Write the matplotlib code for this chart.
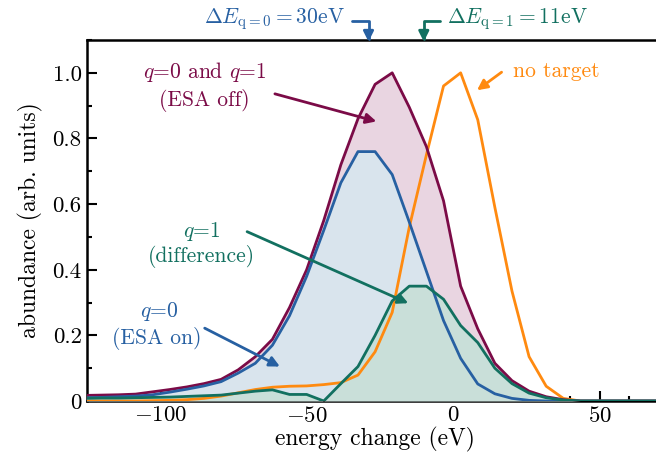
import matplotlib
matplotlib.use('Agg')
import matplotlib.pyplot as plt
from matplotlib.ticker import MultipleLocator

plt.rcParams['font.family'] = 'cmr10'
plt.rcParams['mathtext.fontset'] = 'cm'
plt.rcParams['axes.unicode_minus'] = False
plt.rcParams['font.size'] = 15.5

# energy change (eV)
energy = [-126.2, -120.35, -114.5, -108.65, -102.8, -96.95, -91.1, -85.25,
          -79.4, -73.55, -67.7, -61.85, -56.0, -50.15, -44.3, -38.45, -32.6,
          -26.75, -20.9, -15.05, -9.2, -3.35, 2.5, 8.35, 14.2, 20.05, 25.9,
          31.75, 37.6, 43.45, 49.3, 55.15, 61.0, 66.85, 72.7]

# q=0 and q=1, ESA off
esa_off = [0.017, 0.018, 0.019, 0.021, 0.028, 0.035, 0.043, 0.053,
           0.066, 0.095, 0.135, 0.188, 0.285, 0.40, 0.55, 0.72, 0.86,
           0.965, 1.0, 0.895, 0.775, 0.61, 0.35, 0.22, 0.115, 0.062, 0.03,
           0.013, 0.004, 0.0, 0.0, 0.0, 0.0, 0.0, 0.0]

# q=0, ESA on
esa_on = [0.010, 0.011, 0.013, 0.015, 0.019, 0.027, 0.036, 0.046,
          0.059, 0.085, 0.115, 0.17, 0.26, 0.38, 0.52, 0.665, 0.76,
          0.76, 0.69, 0.545, 0.395, 0.245, 0.13, 0.052, 0.022, 0.008, 0.002,
          0.0, 0.0, 0.0, 0.0, 0.0, 0.0, 0.0, 0.0]

# q=1 (difference)
diff = [0.008, 0.009, 0.009, 0.010, 0.011, 0.012, 0.014, 0.016,
        0.018, 0.024, 0.030, 0.034, 0.020, 0.020, 0.0, 0.053, 0.105,
        0.20, 0.305, 0.35, 0.35, 0.31, 0.23, 0.178, 0.10, 0.053, 0.024,
        0.010, 0.003, 0.0, 0.0, 0.0, 0.0, 0.0, 0.0]

# no target
no_target = [0.0, 0.0, 0.0, 0.0, 0.001, 0.002, 0.004, 0.008,
             0.015, 0.025, 0.035, 0.042, 0.045, 0.046, 0.050, 0.056, 0.079,
             0.15, 0.27, 0.53, 0.75, 0.96, 1.0, 0.857, 0.59, 0.335, 0.135,
             0.045, 0.008, 0.0, 0.0, 0.0, 0.0, 0.0, 0.0]

xticks = [-100, -50, 0, 50]
xticklabels = ['$-100$', '$-50$', '$0$', '$50$']
yticks = [0, 0.2, 0.4, 0.6, 0.8, 1.0]
yticklabels = ['0', '0.2', '0.4', '0.6', '0.8', '1.0']

maroon = '#7b0b47'
blue = '#2760a2'
green = '#127060'
orange = '#ff8a10'

fig = plt.figure(figsize=(6.56, 4.72), dpi=100)
ax = fig.add_axes([0.1319, 0.1504, 0.8802, 0.7648])

ax.fill_between(energy, esa_off, color='#e9d5e1', lw=0, zorder=1)
ax.fill_between(energy, esa_on, color='#d9e4ed', lw=0, zorder=2)
ax.fill_between(energy, diff, color='#c9dfd9', lw=0, zorder=3)

ax.plot(energy, no_target, color=orange, lw=2.0, zorder=4)
ax.plot(energy, esa_off, color=maroon, lw=2.0, zorder=5)
ax.plot(energy, esa_on, color=blue, lw=2.0, zorder=6)
ax.plot(energy, diff, color=green, lw=2.0, zorder=7)

ax.set_xlim(-125.4, 72)
ax.set_ylim(0, 1.1)
ax.set_xticks(xticks, xticklabels)
ax.set_yticks(yticks, yticklabels)
ax.xaxis.set_minor_locator(MultipleLocator(10))
ax.yaxis.set_minor_locator(MultipleLocator(0.1))
ax.tick_params(which='major', direction='in', length=7, width=1.5, top=False, right=False,
               labelsize=16.5)
ax.tick_params(which='minor', direction='in', length=3.5, width=1.5, top=False, right=False)
ax.spines['right'].set_visible(False)
for s in ['left', 'bottom', 'top']:
    ax.spines[s].set_linewidth(1.8)

ax.set_xlabel('energy change (eV)', fontsize=17, labelpad=1)
ax.set_ylabel('abundance (arb. units)', fontsize=17, labelpad=7)

arrow = dict(arrowstyle='-|>', lw=2, mutation_scale=15, shrinkA=0, shrinkB=0)

# inline labels
ax.text(-85, 1.004, '$q$=0 and $q$=1', color=maroon, ha='center', va='center')
ax.text(-85, 0.915, '(ESA off)', color=maroon, ha='center', va='center')
ax.annotate('', xy=(-26.3, 0.852), xytext=(-61, 0.936),
            arrowprops=dict(arrow, color=maroon), zorder=8)

ax.text(20.3, 1.004, 'no target', color=orange, ha='left', va='center')
ax.annotate('', xy=(8.1, 0.947), xytext=(16.5, 1.002),
            arrowprops=dict(arrow, color=orange), zorder=8)

ax.text(-86, 0.516, '$q$=1', color=green, ha='center', va='center')
ax.text(-86, 0.439, '(difference)', color=green, ha='center', va='center')
ax.annotate('', xy=(-15.4, 0.298), xytext=(-70.5, 0.516),
            arrowprops=dict(arrow, color=green), zorder=8)

ax.text(-100.5, 0.272, '$q$=0', color=blue, ha='center', va='center')
ax.text(-101.4, 0.192, '(ESA on)', color=blue, ha='center', va='center')
ax.annotate('', xy=(-59.3, 0.105), xytext=(-85, 0.222),
            arrowprops=dict(arrow, color=blue), zorder=8)

# energy shift markers above the frame
ax.text(-37, 1.163, r'$\Delta E_{\mathrm{q=0}} = 30$eV', color=blue, ha='right',
        va='center', clip_on=False)
ax.annotate('', xy=(-29.0, 1.095), xytext=(-34.5, 1.158), annotation_clip=False,
            arrowprops=dict(arrow, color=blue, connectionstyle='angle,angleA=0,angleB=90,rad=0'))
ax.text(-2, 1.163, r'$\Delta E_{\mathrm{q=1}} = 11$eV', color=green, ha='left',
        va='center', clip_on=False)
ax.annotate('', xy=(-10.1, 1.095), xytext=(-4.5, 1.158), annotation_clip=False,
            arrowprops=dict(arrow, color=green, connectionstyle='angle,angleA=0,angleB=90,rad=0'))

fig.savefig('out.png', dpi=100)
